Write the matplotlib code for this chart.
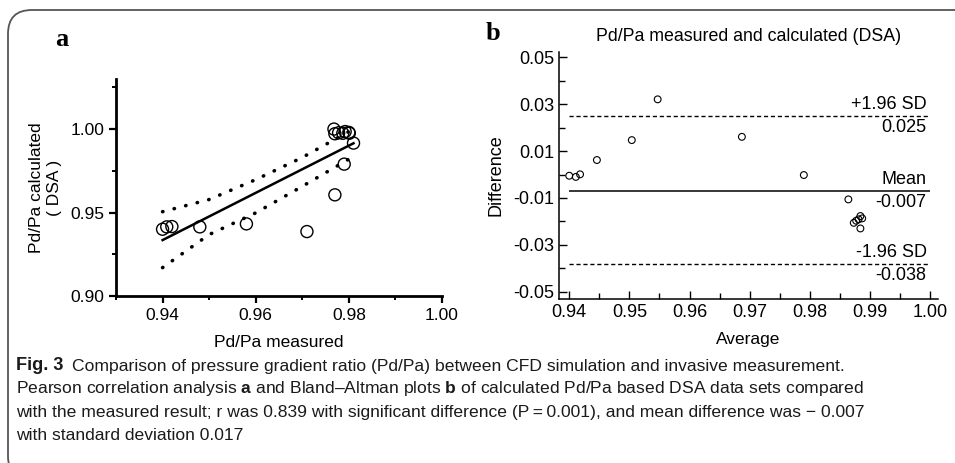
import matplotlib
matplotlib.use("Agg")
import matplotlib.pyplot as plt
from matplotlib.patches import FancyBboxPatch
from matplotlib.ticker import MultipleLocator

# panel a: measured vs calculated
meas = [0.9400, 0.9409, 0.9420, 0.9480, 0.9580, 0.9710, 0.9770, 0.9790, 0.9810,
        0.9768, 0.9770, 0.9778, 0.9787, 0.9792, 0.9800, 0.9801]
calc = [0.9400, 0.9414, 0.9416, 0.9414, 0.9432, 0.9386, 0.9606, 0.9790, 0.9916,
        1.0000, 0.9972, 0.9978, 0.9975, 0.9985, 0.9980, 0.9975]
fit_x = [0.940, 0.981]
fit_y = [0.9335, 0.9915]
ci_x = [0.940, 0.950, 0.960, 0.970, 0.980]
ci_up = [0.9505, 0.9578, 0.9697, 0.9830, 0.9985]
ci_lo = [0.9170, 0.9368, 0.9498, 0.9657, 0.9820]

# panel b: Bland-Altman
avg = [0.9400, 0.9411, 0.9418, 0.9446, 0.9504, 0.9547, 0.9687, 0.9790,
       0.9864, 0.9873, 0.9877, 0.9881, 0.9884, 0.9887, 0.9884]
diff = [-0.0005, -0.0010, 0.0001, 0.0062, 0.0147, 0.0321, 0.0161, -0.0002,
        -0.0106, -0.0206, -0.0197, -0.0191, -0.0177, -0.0187, -0.0230]
mean_diff = -0.007
upper_loa = 0.025
lower_loa = -0.038

plt.rcParams['font.family'] = ['Liberation Sans', 'DejaVu Sans']
plt.rcParams['mathtext.fontset'] = 'custom'
plt.rcParams['mathtext.rm'] = 'Liberation Sans'
plt.rcParams['mathtext.bf'] = 'Liberation Sans:bold'

W, H = 955, 463
fig = plt.figure(figsize=(W / 100, H / 100), dpi=100)

def fx(px):
    return px / W

def fy(py):
    return 1 - py / H

# frame
box = FancyBboxPatch((fx(8), fy(480)), fx(980) - fx(8), fy(10) - fy(480),
                     boxstyle="round,pad=0,rounding_size=0.025",
                     transform=fig.transFigure, fill=False,
                     edgecolor='#555555', linewidth=1.3, mutation_aspect=W / H)
fig.patches.append(box)

# ---- panel a ----
ax1 = fig.add_axes([fx(116), fy(296), fx(442) - fx(116), fy(79) - fy(296)])
ax1.scatter(meas, calc, s=75, facecolors='none', edgecolors='black', linewidths=1.0, zorder=3)
ax1.plot(fit_x, fit_y, color='black', linewidth=1.8)
ax1.plot(ci_x, ci_up, color='black', linestyle=(0, (0.1, 3.2)), linewidth=2.6,
         dash_capstyle='round')
ax1.plot(ci_x, ci_lo, color='black', linestyle=(0, (0.1, 3.2)), linewidth=2.6,
         dash_capstyle='round')
ax1.set_xlim(0.93, 1.00)
ax1.set_ylim(0.90, 1.03)
ax1.set_xticks([0.94, 0.96, 0.98, 1.00])
ax1.xaxis.set_minor_locator(MultipleLocator(0.01))
ax1.yaxis.set_major_locator(MultipleLocator(0.05))
ax1.yaxis.set_minor_locator(MultipleLocator(0.025))
ax1.xaxis.set_major_formatter(plt.FormatStrFormatter('%.2f'))
ax1.yaxis.set_major_formatter(plt.FormatStrFormatter('%.2f'))
for s in ['top', 'right']:
    ax1.spines[s].set_visible(False)
for s in ['left', 'bottom']:
    ax1.spines[s].set_linewidth(2.0)
ax1.tick_params(which='major', direction='out', length=5, width=1.6, labelsize=12.5)
ax1.tick_params(which='minor', direction='out', length=3, width=1.4)
ax1.set_xlabel('Pd/Pa measured', fontsize=12.5, labelpad=9)
ax1.set_ylabel('Pd/Pa calculated\n( DSA )', fontsize=12.5, labelpad=6, linespacing=1.25)

fig.text(fx(62), fy(40), 'a', fontsize=19, fontweight='bold',
         family='Liberation Serif', ha='center', va='center')

# ---- panel b ----
ax2 = fig.add_axes([fx(559), fy(299), fx(938) - fx(559), fy(52) - fy(299)])
ax2.scatter(avg, diff, s=24, facecolors='none', edgecolors='black', linewidths=0.8, zorder=3)
ax2.hlines(mean_diff, 0.94, 1.00, colors='black', linewidth=1.1)
ax2.hlines([upper_loa, lower_loa], 0.94, 1.00, colors='black', linewidth=1.0,
           linestyles=(0, (3, 2)))
ax2.set_xlim(0.9383, 1.0013)
ax2.set_ylim(-0.0531, 0.0523)
ax2.xaxis.set_major_locator(MultipleLocator(0.01))
ax2.xaxis.set_minor_locator(MultipleLocator(0.005))
ax2.set_yticks([0.05, 0.03, 0.01, -0.01, -0.03, -0.05])
ax2.yaxis.set_minor_locator(MultipleLocator(0.01))
ax2.set_yticklabels(['0.05', '0.03', '0.01', '-0.01', '-0.03', '-0.05'])
ax2.xaxis.set_major_formatter(plt.FormatStrFormatter('%.2f'))
for s in ['top', 'right']:
    ax2.spines[s].set_visible(False)
for s in ['left', 'bottom']:
    ax2.spines[s].set_linewidth(1.1)
ax2.tick_params(which='major', direction='in', length=6, width=1.0, labelsize=13)
ax2.tick_params(which='minor', direction='in', length=4, width=1.0)
ax2.set_xlabel('Average', fontsize=12.5, labelpad=8)
ax2.set_ylabel('Difference', fontsize=13, labelpad=6)
ax2.set_title('Pd/Pa measured and calculated (DSA)', fontsize=12.8, pad=8)

lx = 0.9994
lab_fs = 13
ax2.text(lx, upper_loa + 0.0012, '+1.96 SD', ha='right', va='bottom', fontsize=lab_fs)
ax2.text(lx, upper_loa - 0.0015, f'{upper_loa:.3f}', ha='right', va='top', fontsize=lab_fs)
ax2.text(lx, mean_diff + 0.0012, 'Mean', ha='right', va='bottom', fontsize=lab_fs)
ax2.text(lx, mean_diff - 0.0015, f'{mean_diff:.3f}', ha='right', va='top', fontsize=lab_fs)
ax2.text(lx, lower_loa + 0.0012, '-1.96 SD', ha='right', va='bottom', fontsize=lab_fs)
ax2.text(lx, lower_loa - 0.0015, f'{lower_loa:.3f}', ha='right', va='top', fontsize=lab_fs)

fig.text(fx(493), fy(34), 'b', fontsize=19, fontweight='bold',
         family='Liberation Serif', ha='center', va='center')

# ---- caption ----
cap_lines = [
    "Comparison of pressure gradient ratio (Pd/Pa) between CFD simulation and invasive measurement.",
    "Pearson correlation analysis $\\mathbf{a}$ and Bland\u2013Altman plots $\\mathbf{b}$ of calculated Pd/Pa based DSA data sets compared",
    "with the measured result; r was 0.839 with significant difference (P\u2009=\u20090.001), and mean difference was \u2212 0.007",
    "with standard deviation 0.017",
]
cap_size = 12.6
fig.text(fx(16), fy(366), 'Fig. 3', fontsize=cap_size + 0.5, fontweight='bold',
         ha='left', va='center', color='#1a1a1a')
fig.text(fx(72), fy(366), cap_lines[0], fontsize=cap_size,
         ha='left', va='center', color='#1a1a1a')
for i, line in enumerate(cap_lines[1:]):
    fig.text(fx(16), fy(389 + 23.3 * i), line, fontsize=cap_size,
             ha='left', va='center', color='#1a1a1a')

fig.savefig('out.png', dpi=100)
